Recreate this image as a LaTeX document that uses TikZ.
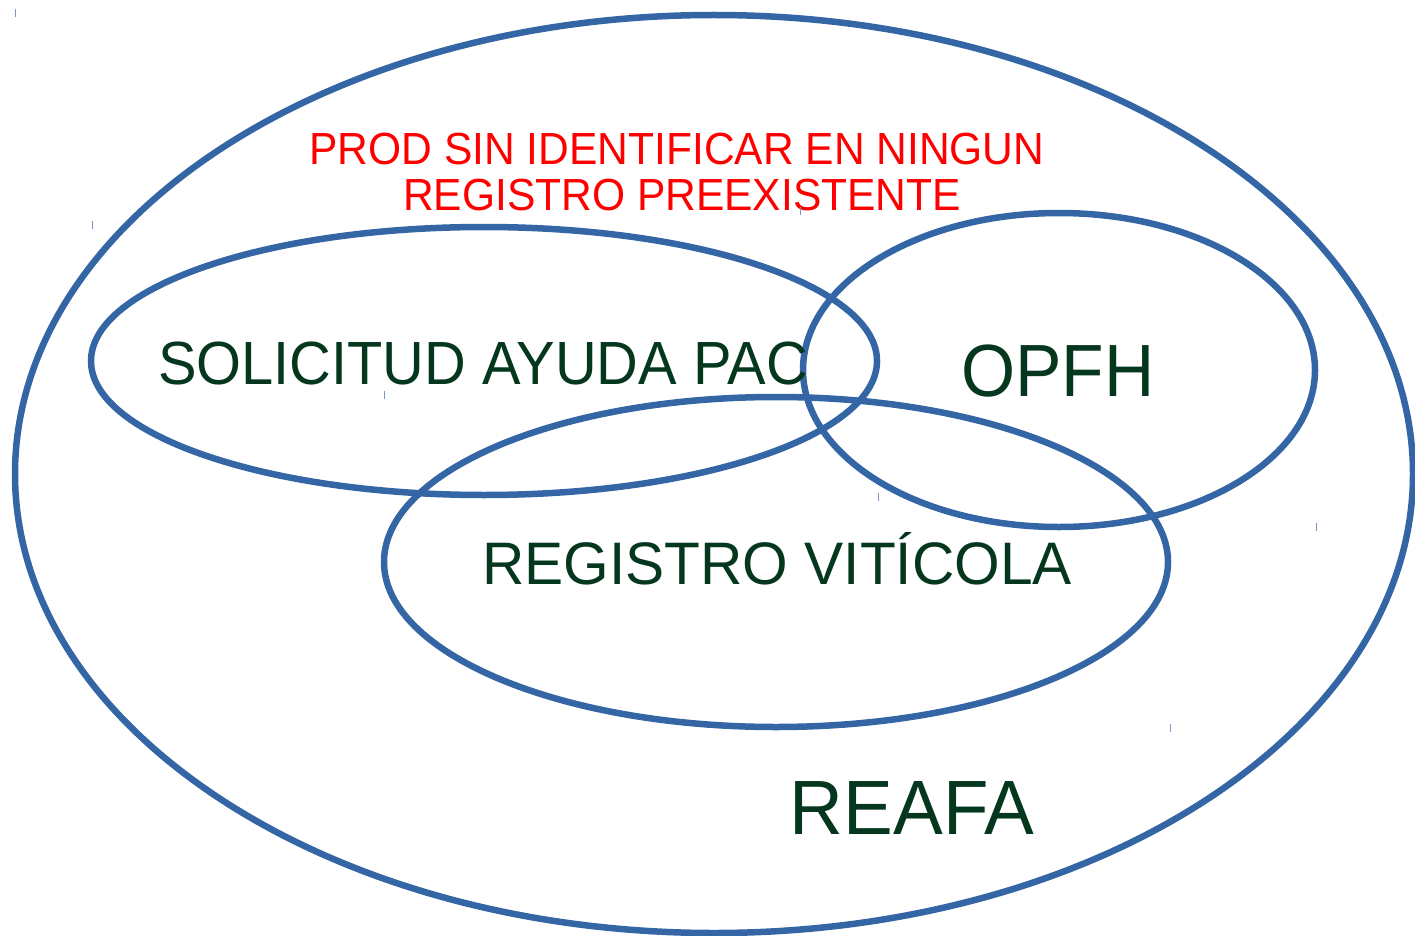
\documentclass[tikz,border=0pt]{standalone}
\usepackage{fontspec}
\usepackage{graphicx}
\setmainfont{Liberation Sans}
\definecolor{ringblue}{RGB}{52,101,164}
\definecolor{darkgreen}{RGB}{5,55,30}
\definecolor{tickblue}{RGB}{120,150,200}
\begin{document}
\begin{tikzpicture}[x=1pt,y=-1pt,
  ring/.style={draw=ringblue,line width=6.5pt},
  lbl/.style={anchor=base,inner sep=0pt,text=darkgreen},
  redlbl/.style={anchor=base,inner sep=0pt,text=red,font=\fontsize{45}{45}\selectfont},
  tick/.style={draw=tickblue,line width=1pt}]
\useasboundingbox (0,0) rectangle (1415,936);
\draw[ring] (714,474) ellipse [x radius=699, y radius=459];
\draw[ring] (484,361) ellipse [x radius=393, y radius=134];
\draw[ring] (1059,370) ellipse [x radius=256, y radius=157];
\draw[ring] (776,562) ellipse [x radius=392, y radius=165];
\node[redlbl] (t1) at (677,165) {\scalebox{0.945}[1]{PROD SIN IDENTIFICAR EN NINGUN}};
\node[redlbl] (t2) at (682,211) {\scalebox{0.945}[1]{REGISTRO PREEXISTENTE}};
\node[lbl,font=\fontsize{61}{61}\selectfont] (pac) at (483,384) {\scalebox{0.947}[1]{SOLICITUD AYUDA PAC}};
\node[lbl,font=\fontsize{74}{74}\selectfont] (opfh) at (1058,396) {\scalebox{0.94}[1]{OPFH}};
\node[lbl,font=\fontsize{60}{60}\selectfont] (vit) at (777,584) {\scalebox{0.977}[1]{REGISTRO VITÍCOLA}};
\node[lbl,font=\fontsize{77}{77}\selectfont] (reafa) at (912,834) {\scalebox{0.968}[1]{REAFA}};
\foreach \x/\y in {15/13,92/225,800/211,384/395,878/497,1316/527,1170/728}
  \draw[tick] (\x,\y-4) -- (\x,\y+4);
\end{tikzpicture}
\end{document}
